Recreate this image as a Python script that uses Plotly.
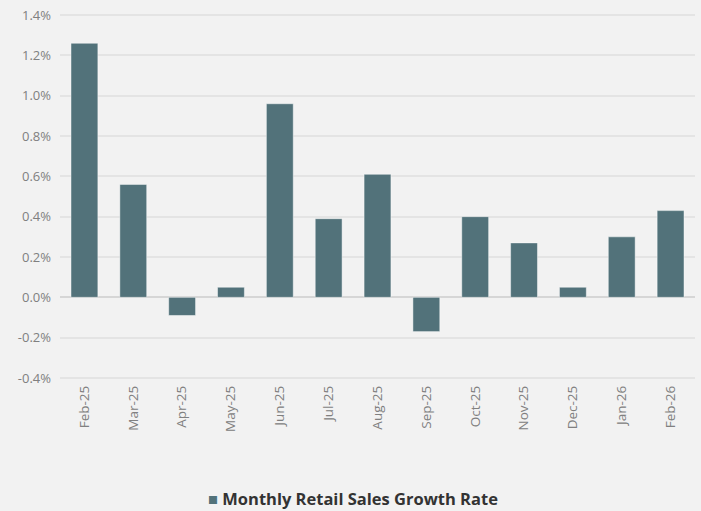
import plotly.graph_objects as go

months = ["Feb-25", "Mar-25", "Apr-25", "May-25", "Jun-25", "Jul-25", "Aug-25",
          "Sep-25", "Oct-25", "Nov-25", "Dec-25", "Jan-26", "Feb-26"]
growth_rate = [1.26, 0.56, -0.09, 0.05, 0.96, 0.39, 0.61, -0.17, 0.40, 0.27, 0.05, 0.30, 0.43]
series_name = "Monthly Retail Sales Growth Rate"
y_ticks = [-0.4, -0.2, 0.0, 0.2, 0.4, 0.6, 0.8, 1.0, 1.2, 1.4]

FONT = "Open Sans"
BAR_COLOR = "#52727a"

fig = go.Figure(
    go.Bar(
        x=months,
        y=growth_rate,
        name=series_name,
        marker=dict(color=BAR_COLOR, line=dict(color="rgba(255,255,255,0.45)", width=1)),
        showlegend=False,
    )
)

fig.update_layout(
    width=701,
    height=511,
    margin=dict(l=60, r=6, t=10, b=131),
    paper_bgcolor="#f2f2f2",
    plot_bgcolor="#f2f2f2",
    bargap=0.45,
    font=dict(family=FONT, color="#808080", size=13),
    showlegend=False,
    annotations=[
        dict(
            text=f"<span style='color:{BAR_COLOR}'>■</span> <b>{series_name}</b>",
            xref="paper",
            yref="paper",
            x=(353 - 60) / 635,
            y=-(499 - 380) / 370,
            xanchor="center",
            yanchor="middle",
            showarrow=False,
            font=dict(family=FONT, size=16.5, color="#333333"),
        )
    ],
)

fig.update_xaxes(
    type="category",
    tickangle=-90,
    showgrid=False,
    showline=False,
    ticks="",
    ticklabelstandoff=2,
    tickfont=dict(family=FONT, size=13.5, color="#808080"),
)

fig.update_yaxes(
    range=[-0.41, 1.41],
    tickvals=y_ticks,
    ticktext=[f"{v:.1f}%" for v in y_ticks],
    showgrid=True,
    gridcolor="#e4e4e4",
    gridwidth=2,
    zeroline=True,
    zerolinecolor="#d6d6d6",
    zerolinewidth=2,
    showline=False,
    ticks="",
    ticklabelstandoff=8,
    tickfont=dict(family=FONT, size=13, color="#808080"),
)

fig.write_html("out.html")
